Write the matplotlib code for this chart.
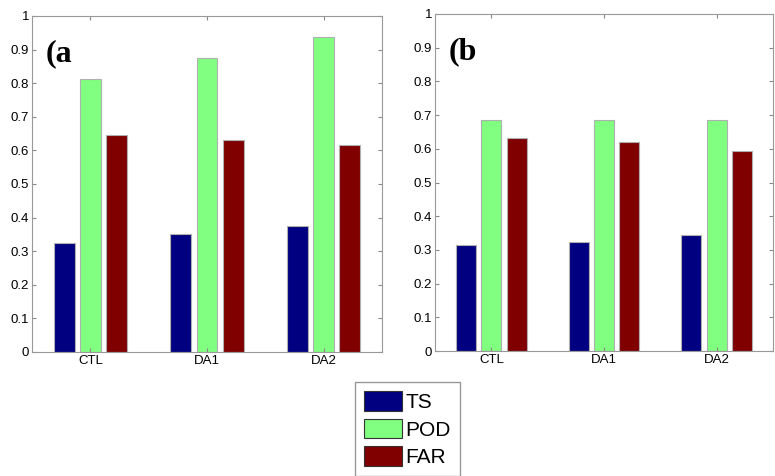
import numpy as np
from matplotlib import pyplot as plt
from matplotlib.patches import Patch
from matplotlib.ticker import FuncFormatter

plt.rcParams['font.family'] = ['Liberation Sans', 'DejaVu Sans']

groups = ['CTL', 'DA1', 'DA2']
series = ['TS', 'POD', 'FAR']

ts_a = [0.325, 0.350, 0.375]
pod_a = [0.812, 0.875, 0.937]
far_a = [0.647, 0.630, 0.615]

ts_b = [0.315, 0.323, 0.343]
pod_b = [0.686, 0.686, 0.686]
far_b = [0.633, 0.619, 0.592]

colors = ['#000080', '#80ff80', '#800000']
edge = '#b0b0b0'

fig = plt.figure(figsize=(7.75, 4.76), dpi=100)
ax_a = fig.add_axes([32 / 775, 1 - 352 / 476, 350 / 775, 336 / 476])
ax_b = fig.add_axes([435 / 775, 1 - 351 / 476, 338 / 775, 337 / 476])

x = np.arange(1, len(groups) + 1)
width = 0.18
step = 0.225


def panel(ax, data, tag):
    for i, vals in enumerate(data):
        ax.bar(x + (i - 1) * step, vals, width=width, color=colors[i],
               edgecolor=edge, linewidth=0.8)
    ax.set_xlim(0.5, 3.5)
    ax.set_ylim(0, 1)
    ax.set_xticks(x)
    ax.set_xticklabels(groups)
    ax.set_yticks(np.arange(0, 1.01, 0.1))
    ax.yaxis.set_major_formatter(FuncFormatter(lambda v, p: '%g' % round(v, 1)))
    ax.tick_params(direction='in', top=True, right=True, length=3,
                   color='#888888', labelsize=9.5, pad=2)
    for s in ax.spines.values():
        s.set_color('#999999')
        s.set_linewidth(0.8)
    ax.text(0.04, 0.93, tag, transform=ax.transAxes, fontsize=23,
            family=['Liberation Serif', 'DejaVu Serif'], weight='semibold',
            va='top', ha='left')


panel(ax_a, [ts_a, pod_a, far_a], '(a')
panel(ax_b, [ts_b, pod_b, far_b], '(b')

handles = [Patch(facecolor=c, edgecolor='#333333', linewidth=0.8) for c in colors]
fig.legend(handles, series, loc='upper left',
           bbox_to_anchor=(355 / 775, 1 - 382 / 476), fontsize=15,
           handlelength=1.8, handleheight=1.05, handletextpad=0.15,
           labelspacing=0.32, borderpad=0.45, borderaxespad=0,
           fancybox=False, edgecolor='#999999', framealpha=1)

plt.savefig('out.png')
